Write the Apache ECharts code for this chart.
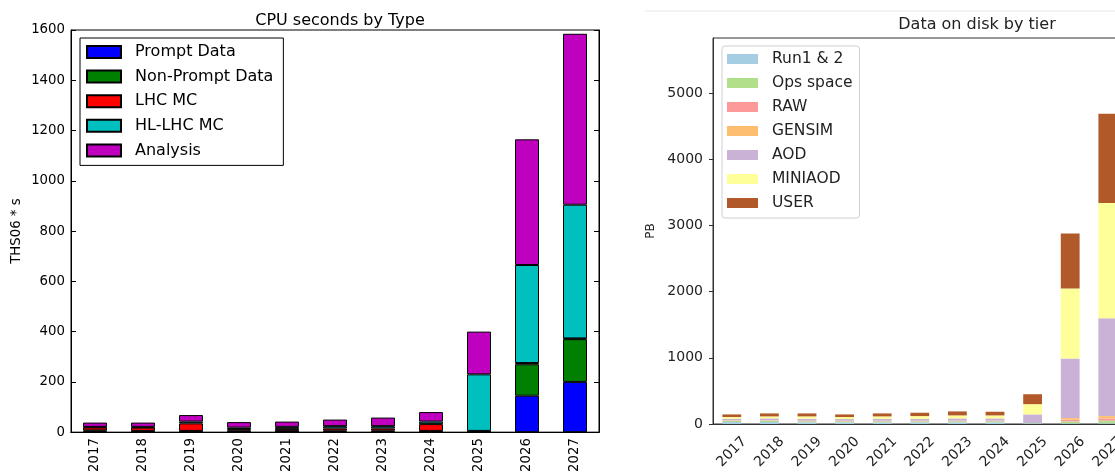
<!DOCTYPE html>
<html><head><meta charset="utf-8">
<script src="https://cdn.jsdelivr.net/npm/echarts@6/dist/echarts.min.js"></script>
<style>html,body{margin:0;padding:0;background:#fff;overflow:hidden;width:1115px;height:475px}#c{width:1140px;height:475px}</style>
</head><body><div id="c"></div>
<script>
// ---- data ----
const years = ['2017','2018','2019','2020','2021','2022','2023','2024','2025','2026','2027'];

// CPU seconds by Type (THS06 * s)
const cpuNames = ['Prompt Data','Non-Prompt Data','LHC MC','HL-LHC MC','Analysis'];
const promptData    = [3, 2, 2, 2, 1, 2, 2, 2, 0, 145, 200];
const nonPromptData = [4, 3, 3, 4, 3, 4, 4, 3, 2, 125, 170];
const lhcMC         = [12, 13, 30, 6, 9, 9, 9, 27, 3, 5, 3];
const hlLhcMC       = [2, 3, 7, 6, 8, 9, 9, 10, 225, 390, 532];
const analysis      = [17, 17, 26, 22, 21, 26, 34, 38, 170, 500, 680];
const cpuTicks = [0, 200, 400, 600, 800, 1000, 1200, 1400, 1600];

// Data on disk by tier (PB)
const diskNames = ['Run1 & 2','Ops space','RAW','GENSIM','AOD','MINIAOD','USER'];
const run12    = [30, 30, 25, 25, 25, 25, 25, 25, 10, 10, 10];
const opsSpace = [15, 15, 15, 15, 15, 15, 15, 15, 5, 30, 40];
const raw      = [5, 5, 5, 5, 5, 5, 5, 5, 0, 25, 35];
const gensim   = [5, 5, 5, 5, 5, 5, 5, 5, 0, 25, 35];
const aod      = [25, 30, 30, 25, 30, 30, 35, 35, 130, 900, 1480];
const miniaod  = [25, 30, 35, 30, 35, 40, 45, 45, 155, 1060, 1740];
const user     = [40, 45, 45, 40, 45, 50, 60, 55, 150, 830, 1350];
const diskTicks = [0, 1000, 2000, 3000, 4000, 5000];

// ---- styles ----
const FF = 'DejaVu Sans';
const cpuColors = ['#0000ff', '#008000', '#ff0000', '#00bfbf', '#bf00bf'];
const diskColors = ['#a6cee3', '#b2df8a', '#fb9a99', '#fdbf6f', '#cab2d6', '#ffff99', '#b15928'];
const cpuData = [promptData, nonPromptData, lhcMC, hlLhcMC, analysis];
const diskData = [run12, opsSpace, raw, gensim, aod, miniaod, user];
const plain = v => String(v);

const chart = echarts.init(document.getElementById('c'), null, {renderer: 'canvas'});

const series = [];
cpuNames.forEach((n, i) => series.push({
  name: n, type: 'bar', stack: 'cpu', xAxisIndex: 0, yAxisIndex: 0,
  barWidth: '50%', data: cpuData[i],
  itemStyle: {color: cpuColors[i], borderColor: '#000', borderWidth: 1},
  emphasis: {disabled: true}
}));
diskNames.forEach((n, i) => series.push({
  name: n, type: 'bar', stack: 'disk', xAxisIndex: 2, yAxisIndex: 2,
  barWidth: '50%', data: diskData[i],
  itemStyle: {color: diskColors[i]},
  emphasis: {disabled: true}
}));

const option = {
  animation: false,
  backgroundColor: '#fff',
  textStyle: {fontFamily: FF},
  title: [
    {text: 'CPU seconds by Type', left: 335, top: 8, textAlign: 'center',
     textStyle: {fontFamily: FF, fontSize: 16, fontWeight: 'normal', color: '#000'}},
    {text: 'Data on disk by tier', left: 972, top: 12, textAlign: 'center',
     textStyle: {fontFamily: FF, fontSize: 16, fontWeight: 'normal', color: '#222'}}
  ],
  legend: [
    {data: cpuNames, orient: 'vertical', left: 80, top: 38, icon: 'rect',
     itemWidth: 34, itemHeight: 12, itemGap: 8.6,
     padding: [6, 10, 7, 6], borderColor: '#000', borderWidth: 1, backgroundColor: '#fff',
     selectedMode: false,
     textStyle: {fontFamily: FF, fontSize: 16, color: '#000', padding: [0, 0, 0, 9]}},
    {data: diskNames, orient: 'vertical', left: 722, top: 46, icon: 'rect',
     itemWidth: 31, itemHeight: 10, itemGap: 8,
     padding: [5, 7, 7, 5], borderColor: '#d0d0d0', borderWidth: 1, borderRadius: 3,
     backgroundColor: 'rgba(255,255,255,0.8)', selectedMode: false,
     textStyle: {fontFamily: FF, fontSize: 15.5, color: '#222', padding: [0, 0, 0, 9]}}
  ],
  grid: [
    {left: 71, top: 30, width: 528, height: 405, show: true, borderColor: '#000', borderWidth: 1, containLabel: false},
    {left: 713, top: 38, width: 413.6, height: 386, show: true, borderColor: '#333', borderWidth: 1, containLabel: false}
  ],
  xAxis: [
    {type: 'category', gridIndex: 0, data: years, boundaryGap: true, z: 10,
     axisLine: {lineStyle: {color: '#000', width: 1}},
     axisTick: {alignWithLabel: true, inside: true, length: 5, lineStyle: {color: '#000'}},
     axisLabel: {rotate: 90, margin: 6, fontFamily: FF, fontSize: 13.3, color: '#000'}},
    {type: 'category', gridIndex: 0, data: years, boundaryGap: true, position: 'top',
     axisLine: {lineStyle: {color: '#000', width: 1}},
     axisTick: {alignWithLabel: true, inside: true, length: 5, lineStyle: {color: '#000'}},
     axisLabel: {show: false}},
    {type: 'category', gridIndex: 1, data: years, boundaryGap: true, z: 10,
     axisLine: {lineStyle: {color: '#333', width: 1}},
     axisTick: {alignWithLabel: true, inside: false, length: 4, lineStyle: {color: '#333'}},
     axisLabel: {rotate: 45, align: 'center', verticalAlign: 'middle', margin: 28,
                 fontFamily: FF, fontSize: 14, color: '#222'}}
  ],
  yAxis: [
    {type: 'value', gridIndex: 0, min: cpuTicks[0], max: cpuTicks[cpuTicks.length - 1], interval: 200,
     name: 'THS06 * s', nameLocation: 'middle', nameGap: 48,
     nameTextStyle: {fontFamily: FF, fontSize: 13.3, color: '#000'},
     axisLine: {show: true, lineStyle: {color: '#000'}},
     axisTick: {show: true, inside: true, length: 5, lineStyle: {color: '#000'}},
     splitLine: {show: false},
     axisLabel: {margin: 6, fontFamily: FF, fontSize: 13.3, color: '#000', formatter: plain}},
    {type: 'value', gridIndex: 0, min: cpuTicks[0], max: cpuTicks[cpuTicks.length - 1], interval: 200,
     position: 'right',
     axisLine: {show: true, lineStyle: {color: '#000'}},
     axisTick: {show: true, inside: true, length: 5, lineStyle: {color: '#000'}},
     splitLine: {show: false}, axisLabel: {show: false}},
    {type: 'value', gridIndex: 1, min: 0, max: 5836, interval: 1000,
     name: 'PB', nameLocation: 'middle', nameGap: 56,
     nameTextStyle: {fontFamily: FF, fontSize: 12, color: '#222'},
     axisLine: {show: true, lineStyle: {color: '#333'}},
     axisTick: {show: true, inside: false, length: 4, lineStyle: {color: '#333'}, customValues: diskTicks},
     splitLine: {show: false},
     axisLabel: {margin: 10, fontFamily: FF, fontSize: 14, color: '#222', customValues: diskTicks, formatter: plain}}
  ],
  graphic: [
    {type: 'line', shape: {x1: 645, y1: 11, x2: 1140, y2: 11}, style: {stroke: '#e6e6e6', lineWidth: 1}, silent: true}
  ],
  series: series
};
chart.setOption(option);
</script></body></html>
